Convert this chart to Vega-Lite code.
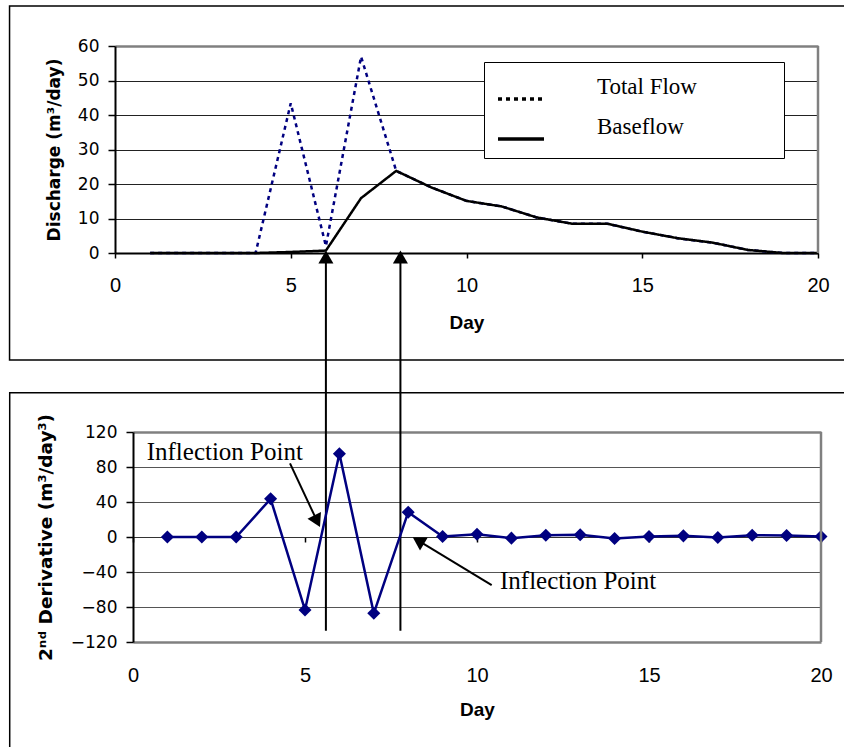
{
  "$schema": "https://vega.github.io/schema/vega-lite/v6.json",
  "width": 844,
  "height": 747,
  "padding": 0,
  "autosize": {"type": "none"},
  "background": "white",
  "config": {"view": {"stroke": null}, "axis": {"labelFlush": false, "labelOverlap": false}},
  "datasets": {
    "flow": [
      {"day": 1, "series": "Total Flow", "discharge": 0},
      {"day": 2, "series": "Total Flow", "discharge": 0},
      {"day": 3, "series": "Total Flow", "discharge": 0},
      {"day": 4, "series": "Total Flow", "discharge": 0},
      {"day": 5, "series": "Total Flow", "discharge": 43.4},
      {"day": 6, "series": "Total Flow", "discharge": 2.0},
      {"day": 7, "series": "Total Flow", "discharge": 56.9},
      {"day": 8, "series": "Total Flow", "discharge": 23.8},
      {"day": 9, "series": "Total Flow", "discharge": 19.0},
      {"day": 10, "series": "Total Flow", "discharge": 15.1},
      {"day": 11, "series": "Total Flow", "discharge": 13.5},
      {"day": 12, "series": "Total Flow", "discharge": 10.3},
      {"day": 13, "series": "Total Flow", "discharge": 8.5},
      {"day": 14, "series": "Total Flow", "discharge": 8.5},
      {"day": 15, "series": "Total Flow", "discharge": 6.2},
      {"day": 16, "series": "Total Flow", "discharge": 4.3},
      {"day": 17, "series": "Total Flow", "discharge": 3.0},
      {"day": 18, "series": "Total Flow", "discharge": 0.9},
      {"day": 19, "series": "Total Flow", "discharge": 0},
      {"day": 20, "series": "Total Flow", "discharge": 0},
      {"day": 1, "series": "Baseflow", "discharge": 0},
      {"day": 2, "series": "Baseflow", "discharge": 0},
      {"day": 3, "series": "Baseflow", "discharge": 0},
      {"day": 4, "series": "Baseflow", "discharge": 0},
      {"day": 5, "series": "Baseflow", "discharge": 0.3},
      {"day": 6, "series": "Baseflow", "discharge": 0.7},
      {"day": 7, "series": "Baseflow", "discharge": 15.9},
      {"day": 8, "series": "Baseflow", "discharge": 23.8},
      {"day": 9, "series": "Baseflow", "discharge": 19.0},
      {"day": 10, "series": "Baseflow", "discharge": 15.1},
      {"day": 11, "series": "Baseflow", "discharge": 13.5},
      {"day": 12, "series": "Baseflow", "discharge": 10.3},
      {"day": 13, "series": "Baseflow", "discharge": 8.5},
      {"day": 14, "series": "Baseflow", "discharge": 8.5},
      {"day": 15, "series": "Baseflow", "discharge": 6.2},
      {"day": 16, "series": "Baseflow", "discharge": 4.3},
      {"day": 17, "series": "Baseflow", "discharge": 3.0},
      {"day": 18, "series": "Baseflow", "discharge": 0.9},
      {"day": 19, "series": "Baseflow", "discharge": 0},
      {"day": 20, "series": "Baseflow", "discharge": 0}
    ],
    "deriv": [
      {"day": 1, "d2": 0},
      {"day": 2, "d2": 0},
      {"day": 3, "d2": 0},
      {"day": 4, "d2": 43.6},
      {"day": 5, "d2": -83.4},
      {"day": 6, "d2": 95.1},
      {"day": 7, "d2": -87.2},
      {"day": 8, "d2": 28.4},
      {"day": 9, "d2": 0.5},
      {"day": 10, "d2": 3.2},
      {"day": 11, "d2": -1.3},
      {"day": 12, "d2": 2.0},
      {"day": 13, "d2": 2.5},
      {"day": 14, "d2": -1.7},
      {"day": 15, "d2": 0.5},
      {"day": 16, "d2": 1.3},
      {"day": 17, "d2": -0.6},
      {"day": 18, "d2": 2.0},
      {"day": 19, "d2": 1.7},
      {"day": 20, "d2": 0.5}
    ],
    "inflection": [{"day": 6.0}, {"day": 8.12}]
  },
  "layer": [
    {
      "layer": [
        {
          "data": {"name": "flow"},
          "transform": [{"filter": "datum.series === 'Total Flow'"}],
          "mark": {"type": "line", "color": "#000080", "strokeWidth": 2.5},
          "encoding": {
            "x": {"field": "day", "type": "quantitative",
              "scale": {"domain": [0, 20], "range": [115, 818], "nice": false, "zero": false},
              "axis": {"orient": "bottom", "offset": -494, "values": [0, 5, 10, 15, 20], "tickSize": 5, "tickColor": "black", "tickWidth": 1.5,
                "domainColor": "black", "domainWidth": 2, "labelFont": "Liberation Sans", "labelFontSize": 20, "labelColor": "black", "labelPadding": 17,
                "title": "Day", "titleFont": "Liberation Sans", "titleFontSize": 19, "titleFontWeight": "bold", "titleColor": "black", "titlePadding": 18,
                "grid": false}},
            "y": {"field": "discharge", "type": "quantitative",
              "scale": {"domain": [0, 60], "range": [253, 46], "nice": false, "zero": false},
              "axis": {"orient": "left", "offset": -115, "values": [0, 10, 20, 30, 40, 50, 60], "tickSize": 7, "tickColor": "black", "tickWidth": 1.5,
                "domainColor": "black", "domainWidth": 2, "labelFont": "DejaVu Sans", "labelFontSize": 17, "labelColor": "black", "labelPadding": 9,
                "title": "Discharge (m³/day)", "titleFont": "DejaVu Sans", "titleFontSize": 17, "titleFontWeight": "bold", "titleColor": "black", "titlePadding": 14,
                "grid": true,
                "gridColor": {"condition": {"test": "datum.value === 60", "value": "#808080"}, "value": "#222222"},
                "gridWidth": {"condition": {"test": "datum.value === 60", "value": 2.5}, "value": 1.2}}},
            "strokeDash": {"field": "series", "type": "nominal",
              "scale": {"domain": ["Total Flow", "Baseflow"], "range": [[4, 4], [1, 0]]},
              "legend": {"title": null, "orient": "none", "legendX": 484, "legendY": 62, "padding": 12,
                "strokeColor": "black", "fillColor": "white", "symbolType": "stroke", "symbolSize": 2116,
                "symbolStrokeWidth": 3.5, "symbolStrokeColor": "black", "labelFont": "Liberation Serif", "labelFontSize": 23,
                "labelColor": "black", "labelOffset": 51, "labelBaseline": "bottom", "rowPadding": 8, "labelLimit": 400,
                "labelExpr": "datum.label + '\u00a0\u00a0\u00a0\u00a0\u00a0\u00a0\u00a0\u00a0\u00a0\u00a0\u00a0\u00a0\u00a0\u200b'"}}
          }
        },
        {
          "data": {"name": "flow"},
          "transform": [{"filter": "datum.series === 'Baseflow'"}],
          "mark": {"type": "line", "color": "black", "strokeWidth": 2.5},
          "encoding": {
            "x": {"field": "day", "type": "quantitative", "scale": {"domain": [0, 20], "range": [115, 818], "nice": false, "zero": false}},
            "y": {"field": "discharge", "type": "quantitative", "scale": {"domain": [0, 60], "range": [253, 46], "nice": false, "zero": false}},
            "strokeDash": {"field": "series", "type": "nominal", "scale": {"domain": ["Total Flow", "Baseflow"], "range": [[4, 4], [1, 0]]}}
          }
        },
        {
          "data": {"values": [{}]},
          "mark": {"type": "rule", "color": "#808080", "strokeWidth": 2.5},
          "encoding": {
            "x": {"datum": 20, "type": "quantitative", "scale": {"domain": [0, 20], "range": [115, 818], "nice": false, "zero": false}},
            "y": {"datum": 0, "type": "quantitative", "scale": {"domain": [0, 60], "range": [253, 46], "nice": false, "zero": false}},
            "y2": {"datum": 60}
          }
        },
        {
          "data": {"values": [{}]},
          "mark": {"type": "rect", "filled": false, "stroke": "black", "strokeWidth": 1.5},
          "encoding": {
            "x": {"datum": -3.0, "type": "quantitative", "scale": {"domain": [0, 20], "range": [115, 818], "nice": false, "zero": false}},
            "x2": {"datum": 21.5},
            "y": {"datum": 71.6, "type": "quantitative", "scale": {"domain": [0, 60], "range": [253, 46], "nice": false, "zero": false}},
            "y2": {"datum": -31}
          }
        },
        {
          "data": {"name": "inflection"},
          "mark": {"type": "rule", "color": "black", "strokeWidth": 2},
          "encoding": {
            "x": {"field": "day", "type": "quantitative", "scale": {"domain": [0, 20], "range": [115, 818], "nice": false, "zero": false}},
            "y": {"datum": 0, "type": "quantitative", "scale": {"domain": [0, 60], "range": [253, 46], "nice": false, "zero": false}},
            "y2": {"datum": -109.5}
          }
        },
        {
          "data": {"name": "inflection"},
          "mark": {"type": "point", "shape": "triangle-up", "filled": true, "color": "black", "size": 225, "opacity": 1, "yOffset": 4},
          "encoding": {
            "x": {"field": "day", "type": "quantitative", "scale": {"domain": [0, 20], "range": [115, 818], "nice": false, "zero": false}},
            "y": {"datum": 0, "type": "quantitative", "scale": {"domain": [0, 60], "range": [253, 46], "nice": false, "zero": false}}
          }
        }
      ]
    },
    {
      "layer": [
        {
          "data": {"name": "deriv"},
          "mark": {"type": "line", "color": "#000080", "strokeWidth": 2.5,
            "point": {"shape": "diamond", "size": 170, "filled": true, "color": "#000080", "opacity": 1}},
          "encoding": {
            "x": {"field": "day", "type": "quantitative",
              "scale": {"domain": [0, 20], "range": [133, 821], "nice": false, "zero": false},
              "axis": {"orient": "bottom", "offset": -210, "values": [0, 5, 10, 15, 20], "tickSize": 5, "tickColor": "black", "tickWidth": 1.5,
                "domainColor": "#333333", "domainWidth": 1.2, "labelFont": "Liberation Sans", "labelFontSize": 20, "labelColor": "black", "labelPadding": 123,
                "title": "Day", "titleFont": "Liberation Sans", "titleFontSize": 19, "titleFontWeight": "bold", "titleColor": "black", "titlePadding": 15,
                "grid": false}},
            "y": {"field": "d2", "type": "quantitative",
              "scale": {"domain": [-120, 120], "range": [642, 432], "nice": false, "zero": false},
              "axis": {"orient": "left", "offset": -133, "values": [-120, -80, -40, 0, 40, 80, 120], "tickSize": 7, "tickColor": "black", "tickWidth": 1.5,
                "domainColor": "black", "domainWidth": 2, "labelFont": "DejaVu Sans", "labelFontSize": 17, "labelColor": "black", "labelPadding": 9,
                "title": "2ⁿᵈ Derivative (m³/day³)", "titleFont": "DejaVu Sans", "titleFontSize": 18.5, "titleFontWeight": "bold", "titleColor": "black", "titlePadding": 15,
                "grid": true,
                "gridColor": {"condition": {"test": "datum.value === 120 || datum.value === -120", "value": "#808080"}, "value": "#555555"},
                "gridWidth": {"condition": {"test": "datum.value === 120 || datum.value === -120", "value": 2.5}, "value": 1.2}}}
          }
        },
        {
          "data": {"values": [{}]},
          "mark": {"type": "rule", "color": "#808080", "strokeWidth": 2.5},
          "encoding": {
            "x": {"datum": 20, "type": "quantitative", "scale": {"domain": [0, 20], "range": [133, 821], "nice": false, "zero": false}},
            "y": {"datum": -120, "type": "quantitative", "scale": {"domain": [-120, 120], "range": [642, 432], "nice": false, "zero": false}},
            "y2": {"datum": 120}
          }
        },
        {
          "data": {"values": [{}]},
          "mark": {"type": "rect", "filled": false, "stroke": "black", "strokeWidth": 1.5},
          "encoding": {
            "x": {"datum": -3.584, "type": "quantitative", "scale": {"domain": [0, 20], "range": [133, 821], "nice": false, "zero": false}},
            "x2": {"datum": 21.5},
            "y": {"datum": 164.9, "type": "quantitative", "scale": {"domain": [-120, 120], "range": [642, 432], "nice": false, "zero": false}},
            "y2": {"datum": -260}
          }
        },
        {
          "data": {"values": [{}]},
          "mark": {"type": "rule", "color": "black", "strokeWidth": 2},
          "encoding": {
            "x": {"datum": 4.564, "type": "quantitative", "scale": {"domain": [0, 20], "range": [133, 821], "nice": false, "zero": false}},
            "x2": {"datum": 5.352},
            "y": {"datum": 84.2, "type": "quantitative", "scale": {"domain": [-120, 120], "range": [642, 432], "nice": false, "zero": false}},
            "y2": {"datum": 18.1}
          }
        },
        {
          "data": {"values": [{}]},
          "mark": {"type": "rule", "color": "black", "strokeWidth": 2},
          "encoding": {
            "x": {"datum": 10.427, "type": "quantitative", "scale": {"domain": [0, 20], "range": [133, 821], "nice": false, "zero": false}},
            "x2": {"datum": 8.294},
            "y": {"datum": -54.9, "type": "quantitative", "scale": {"domain": [-120, 120], "range": [642, 432], "nice": false, "zero": false}},
            "y2": {"datum": -4.2}
          }
        },
        {
          "data": {"values": [{}]},
          "mark": {"type": "point", "shape": "triangle-up", "filled": true, "color": "black", "size": 225, "opacity": 1, "angle": 153.4},
          "encoding": {
            "x": {"datum": 5.352, "type": "quantitative", "scale": {"domain": [0, 20], "range": [133, 821], "nice": false, "zero": false}},
            "y": {"datum": 18.1, "type": "quantitative", "scale": {"domain": [-120, 120], "range": [642, 432], "nice": false, "zero": false}}
          }
        },
        {
          "data": {"values": [{}]},
          "mark": {"type": "point", "shape": "triangle-up", "filled": true, "color": "black", "size": 225, "opacity": 1, "angle": 301.1},
          "encoding": {
            "x": {"datum": 8.294, "type": "quantitative", "scale": {"domain": [0, 20], "range": [133, 821], "nice": false, "zero": false}},
            "y": {"datum": -4.2, "type": "quantitative", "scale": {"domain": [-120, 120], "range": [642, 432], "nice": false, "zero": false}}
          }
        },
        {
          "data": {"values": [{}]},
          "mark": {"type": "text", "font": "Liberation Serif", "fontSize": 25, "align": "left", "baseline": "alphabetic", "color": "black"},
          "encoding": {
            "x": {"datum": 0.398, "type": "quantitative", "scale": {"domain": [0, 20], "range": [133, 821], "nice": false, "zero": false}},
            "y": {"datum": 88.0, "type": "quantitative", "scale": {"domain": [-120, 120], "range": [642, 432], "nice": false, "zero": false}},
            "text": {"value": "Inflection Point"}
          }
        },
        {
          "data": {"values": [{}]},
          "mark": {"type": "text", "font": "Liberation Serif", "fontSize": 25, "align": "left", "baseline": "alphabetic", "color": "black"},
          "encoding": {
            "x": {"datum": 10.669, "type": "quantitative", "scale": {"domain": [0, 20], "range": [133, 821], "nice": false, "zero": false}},
            "y": {"datum": -59.4, "type": "quantitative", "scale": {"domain": [-120, 120], "range": [642, 432], "nice": false, "zero": false}},
            "text": {"value": "Inflection Point"}
          }
        }
      ]
    }
  ],
  "resolve": {"scale": {"x": "independent", "y": "independent", "strokeDash": "shared"}}
}
